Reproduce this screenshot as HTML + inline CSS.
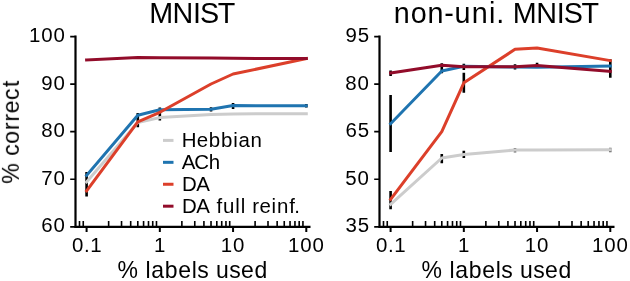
<!DOCTYPE html>
<html><head><meta charset="utf-8"><style>
html,body{margin:0;padding:0;background:#fff;}
svg{display:block;}
text{will-change:transform;}
text{font-family:"Liberation Sans", sans-serif;fill:#000;}
</style></head><body>
<svg width="630" height="281" viewBox="0 0 630 281">
<rect width="630" height="281" fill="#fff"/>
<path d="M86.60 173.30V195.20M137.79 114.40V125.90M159.83 108.80V119.30M211.02 108.60V110.20M233.06 104.30V107.60M306.29 105.30V106.30" stroke="#000" stroke-width="2.6" stroke-linecap="square" fill="none"/>
<polyline points="86.60,182.00 137.79,122.50 159.83,117.60 211.02,114.50 233.06,113.90 306.29,113.70" stroke="#cccccc" stroke-width="3.0" fill="none" stroke-linejoin="round" stroke-linecap="square"/>
<polyline points="86.60,175.40 137.79,115.30 159.83,109.80 211.02,109.20 233.06,105.60 306.29,105.70" stroke="#1f74b0" stroke-width="3.0" fill="none" stroke-linejoin="round" stroke-linecap="square"/>
<polyline points="86.60,190.80 137.79,121.80 159.83,112.30 211.02,84.00 233.06,74.00 306.29,58.60" stroke="#dc3f2a" stroke-width="3.0" fill="none" stroke-linejoin="round" stroke-linecap="square"/>
<polyline points="86.60,60.00 137.79,57.60 159.83,57.80 211.02,58.00 233.06,58.30 306.29,58.60" stroke="#920c2a" stroke-width="3.0" fill="none" stroke-linejoin="round" stroke-linecap="square"/>
<path d="M390.60 96.30V150.70M390.60 192.30V208.00M390.60 71.70V74.60M441.79 64.60V71.90M441.79 155.20V162.00M463.83 65.10V68.60M463.83 74.10V91.40M463.83 152.00V156.80M515.02 65.50V68.20M537.06 64.10V66.70M610.29 60.50V76.40" stroke="#000" stroke-width="2.6" stroke-linecap="square" fill="none"/>
<path d="M515.02 149.30V151.10M610.29 149.10V150.90" stroke="#666" stroke-width="2.6" stroke-linecap="square" fill="none"/>
<polyline points="390.60,204.30 441.79,158.00 463.83,154.60 515.02,150.00 537.06,149.90 610.29,149.80" stroke="#cccccc" stroke-width="3.0" fill="none" stroke-linejoin="round" stroke-linecap="square"/>
<polyline points="390.60,123.70 441.79,71.00 463.83,66.20 515.02,67.00 537.06,67.30 610.29,66.10" stroke="#1f74b0" stroke-width="3.0" fill="none" stroke-linejoin="round" stroke-linecap="square"/>
<polyline points="390.60,199.30 441.79,131.70 463.83,82.80 515.02,49.30 537.06,48.00 610.29,60.60" stroke="#dc3f2a" stroke-width="3.0" fill="none" stroke-linejoin="round" stroke-linecap="square"/>
<polyline points="390.60,73.00 441.79,65.20 463.83,66.70 515.02,66.70 537.06,65.60 610.29,71.30" stroke="#920c2a" stroke-width="3.0" fill="none" stroke-linejoin="round" stroke-linecap="square"/>
<path d="M75.50 35.60V228.00M74.30 226.80H310.50" stroke="#000" stroke-width="2.2" fill="none"/>
<path d="M70.20 36.60H75.50M70.20 84.15H75.50M70.20 131.70H75.50M70.20 179.25H75.50M70.20 226.80H75.50" stroke="#000" stroke-width="1.7" fill="none"/>
<path d="M86.60 226.80V232M159.83 226.80V232M233.06 226.80V232M306.29 226.80V232" stroke="#000" stroke-width="2" fill="none"/>
<path d="M79.50 226.80V221M83.25 226.80V221M108.64 226.80V221M121.54 226.80V221M130.69 226.80V221M137.79 226.80V221M143.58 226.80V221M148.49 226.80V221M152.73 226.80V221M156.48 226.80V221M181.87 226.80V221M194.77 226.80V221M203.92 226.80V221M211.02 226.80V221M216.81 226.80V221M221.72 226.80V221M225.96 226.80V221M229.71 226.80V221M255.10 226.80V221M268.00 226.80V221M277.15 226.80V221M284.25 226.80V221M290.04 226.80V221M294.95 226.80V221M299.19 226.80V221M302.94 226.80V221" stroke="#000" stroke-width="1.6" fill="none"/>
<path d="M379.50 35.60V228.00M378.30 226.80H614.50" stroke="#000" stroke-width="2.2" fill="none"/>
<path d="M374.20 36.60H379.50M374.20 84.15H379.50M374.20 131.70H379.50M374.20 179.25H379.50M374.20 226.80H379.50" stroke="#000" stroke-width="1.7" fill="none"/>
<path d="M390.60 226.80V232M463.83 226.80V232M537.06 226.80V232M610.29 226.80V232" stroke="#000" stroke-width="2" fill="none"/>
<path d="M383.50 226.80V221M387.25 226.80V221M412.64 226.80V221M425.54 226.80V221M434.69 226.80V221M441.79 226.80V221M447.58 226.80V221M452.49 226.80V221M456.73 226.80V221M460.48 226.80V221M485.87 226.80V221M498.77 226.80V221M507.92 226.80V221M515.02 226.80V221M520.81 226.80V221M525.72 226.80V221M529.96 226.80V221M533.71 226.80V221M559.10 226.80V221M572.00 226.80V221M581.15 226.80V221M588.25 226.80V221M594.04 226.80V221M598.95 226.80V221M603.19 226.80V221M606.94 226.80V221" stroke="#000" stroke-width="1.6" fill="none"/>
<text x="28.90 41.18 53.46" y="42.05" font-size="20.45">100</text>
<text x="41.18 53.46" y="89.60" font-size="20.45">90</text>
<text x="41.18 53.46" y="137.15" font-size="20.45">80</text>
<text x="41.18 53.46" y="184.70" font-size="20.45">70</text>
<text x="41.18 53.46" y="232.25" font-size="20.45">60</text>
<text x="71.96 84.01 90.37" y="252.00" font-size="20.45">0.1</text>
<text x="153.97" y="252.00" font-size="20.45">1</text>
<text x="220.81 233.09" y="252.00" font-size="20.45">10</text>
<text x="287.90 300.18 312.46" y="252.00" font-size="20.45">100</text>
<text x="117.49 138.28 145.38 151.20 164.74 178.30 191.83 197.30 208.96 216.09 229.26 240.94 254.51" y="277.90" font-size="22.99">% labels used</text>
<text x="345.58 357.86" y="42.05" font-size="20.45">95</text>
<text x="345.18 357.46" y="89.60" font-size="20.45">80</text>
<text x="345.58 357.86" y="137.15" font-size="20.45">65</text>
<text x="345.18 357.46" y="184.70" font-size="20.45">50</text>
<text x="345.58 357.86" y="232.25" font-size="20.45">35</text>
<text x="375.96 388.01 394.37" y="252.00" font-size="20.45">0.1</text>
<text x="457.97" y="252.00" font-size="20.45">1</text>
<text x="524.81 537.09" y="252.00" font-size="20.45">10</text>
<text x="591.90 604.18 616.46" y="252.00" font-size="20.45">100</text>
<text x="421.49 442.28 449.38 455.20 468.74 482.30 495.83 501.30 512.96 520.09 533.26 544.94 558.51" y="277.90" font-size="22.99">% labels used</text>
<path d="M164.5 140.40H172" stroke="#cccccc" stroke-width="3" stroke-linecap="square"/>
<text x="181.87 196.76 208.83 221.08 233.30 238.48 250.51" y="147.10" font-size="20.45">Hebbian</text>
<path d="M164.5 162.33H172" stroke="#1f74b0" stroke-width="3" stroke-linecap="square"/>
<text x="181.78 194.22 208.77" y="169.03" font-size="20.45">ACh</text>
<path d="M164.5 184.26H172" stroke="#dc3f2a" stroke-width="3" stroke-linecap="square"/>
<text x="182.05 196.30" y="190.96" font-size="20.45">DA</text>
<path d="M164.5 206.19H172" stroke="#920c2a" stroke-width="3" stroke-linecap="square"/>
<text x="182.05 196.30 209.95 216.42 223.08 235.30 240.66 245.84 252.31 259.51 271.54 276.92 289.28 294.34" y="212.89" font-size="20.45">DA full reinf.</text>
<text x="149.17 172.59 193.10 200.11 217.80" y="22.90" font-size="28.71">MNIST</text>
<text x="393.84 410.72 427.60 444.28 454.55 471.73 488.88 496.15 504.76 512.79 536.21 556.72 563.73 581.41" y="22.90" font-size="28.71">non-uni. MNIST</text>
<g transform="translate(18.9 183.81) rotate(-90)"><text x="0.09 21.02 27.93 39.97 53.73 62.32 70.47 83.85 96.71" y="0.00" font-size="23.15">% correct</text></g>
</svg>
</body></html>
